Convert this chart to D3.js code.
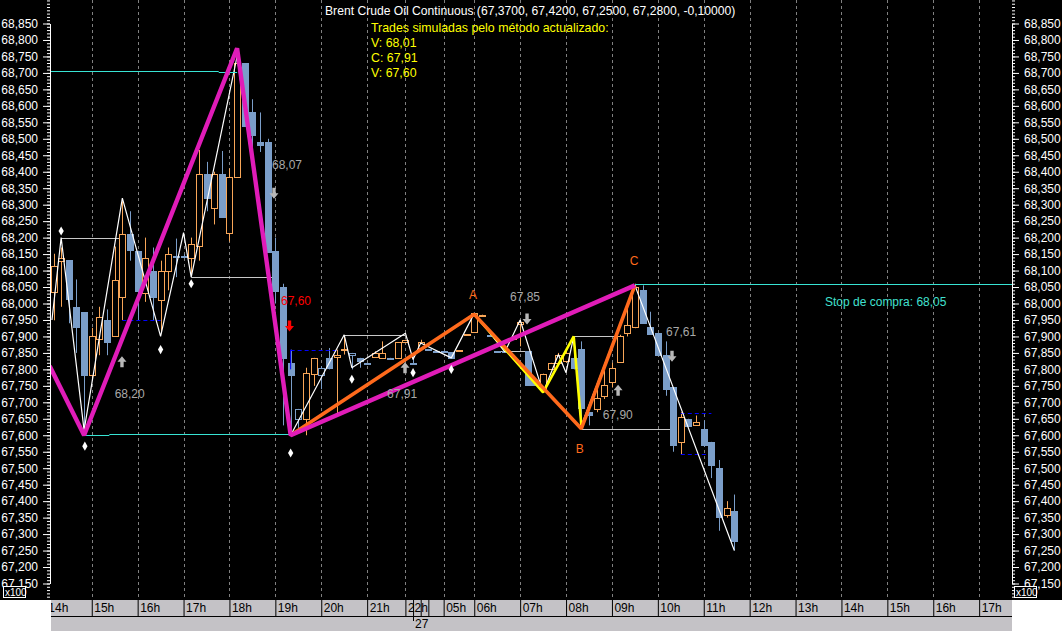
<!DOCTYPE html>
<html>
<head>
<meta charset="utf-8">
<script src="https://d3js.org/d3.v7.min.js"></script>
<style>
  html, body { margin: 0; padding: 0; background: #fff; }
  svg { display: block; }
  text { font-family: "Liberation Sans", Arial, sans-serif; font-size: 12px; }
</style>
</head>
<body>
<div id="chart"></div>
<script>
// candles, one per 10 minute bar
var opens = [68.033,68.131,68.131,67.99,67.973,67.783,67.892,67.949,67.901,68.021,
  68.21,68.16,68.032,68.1,68.012,68.099,68.143,68.143,68.139,68.173,
  68.393,68.29,68.393,68.213,68.383,68.73,68.58,68.49,68.49,68.16,
  68.05,67.82,67.68,67.65,67.785,67.805,67.835,67.84,67.859,67.85,
  67.835,67.82,67.837,67.835,67.835,67.835,67.884,67.82,67.865,67.862,
  67.857,67.857,67.852,67.856,67.905,67.912,67.964,67.905,67.855,67.855,
  67.894,67.94,67.855,67.763,67.742,67.802,67.82,67.825,67.835,67.862,
  67.67,67.68,67.72,67.76,67.82,67.91,67.93,68.04,67.93,67.91,
  67.845,67.745,67.58,67.65,67.63,67.62,67.58,67.5,67.36,67.37];
var closes = [68.113,68.139,68.013,67.93,67.782,67.902,67.96,67.882,68.072,68.212,
  68.162,68.04,68.139,68.022,68.1,68.151,68.141,68.141,68.18,68.393,
  68.32,68.393,68.263,68.383,68.73,68.54,68.51,68.48,68.155,68.04,
  67.835,67.783,67.65,67.79,67.835,67.785,67.805,67.845,67.862,67.844,
  67.825,67.818,67.85,67.85,67.833,67.883,67.89,67.818,67.883,67.86,
  67.855,67.855,67.835,67.858,67.907,67.97,67.966,67.903,67.853,67.853,
  67.896,67.945,67.753,67.753,67.787,67.82,67.844,67.85,67.805,67.683,
  67.662,67.713,67.753,67.803,67.9,67.935,68.05,67.94,67.91,67.843,
  67.743,67.57,67.655,67.63,67.64,67.572,67.51,67.35,67.38,67.28];
var highs = [68.151,68.17,68.131,68.073,67.973,67.926,67.99,67.982,68.173,68.31,
  68.28,68.16,68.2,68.17,68.13,68.17,68.197,68.15,68.2,68.466,
  68.43,68.4,68.463,68.41,68.77,68.73,68.62,68.58,68.5,68.2,
  68.06,67.86,67.68,67.805,67.835,67.81,67.865,67.86,67.9,67.85,
  67.835,67.82,67.855,67.885,67.835,67.883,67.89,67.85,67.89,67.862,
  67.857,67.857,67.852,67.858,67.907,67.97,67.966,67.905,67.855,67.855,
  67.896,67.95,67.855,67.763,67.787,67.82,67.85,67.86,67.85,67.885,
  67.67,67.74,67.795,67.82,67.905,67.99,68.06,68.055,67.975,67.91,
  67.885,67.745,67.67,67.65,67.66,67.645,67.58,67.525,67.4,67.42];
var lows = [67.949,67.99,67.94,67.85,67.6,67.767,67.843,67.843,67.901,67.95,
  68.13,67.95,68.005,67.95,67.91,68.04,68.08,68.14,68.09,68.13,
  68.28,68.24,68.263,68.188,68.383,68.54,68.47,68.46,68.155,68.0,
  67.63,67.6,67.62,67.6,67.75,67.74,67.8,67.66,67.845,67.8,
  67.805,67.818,67.835,67.835,67.833,67.835,67.884,67.818,67.865,67.86,
  67.855,67.855,67.835,67.856,67.905,67.912,67.964,67.903,67.853,67.853,
  67.894,67.87,67.753,67.75,67.742,67.8,67.81,67.82,67.8,67.62,
  67.63,67.67,67.71,67.745,67.82,67.9,67.925,67.94,67.91,67.843,
  67.72,67.55,67.54,67.63,67.63,67.565,67.47,67.31,67.35,67.25];
var hollowDown = [32, 35, 39];

// swing lines: bar index and price
var magentaBars = [-0.5, 4, 24, 31, 76];
var magentaPrices = [67.81, 67.6, 68.775, 67.6, 68.055];
var orangeBars = [31, 55, 69, 76];
var orangePrices = [67.6, 67.967, 67.62, 68.055];
var yellowBars = [55, 64, 68, 69];
var yellowPrices = [67.967, 67.73, 67.9, 67.63];
var zigzagBars = [-0.2, 1, 4, 9, 14, 17, 18, 24, 31, 38, 39, 46, 47, 48, 52, 55, 59, 61, 64, 66, 67, 68, 69, 76, 89];
var zigzagPrices = [67.95, 68.2, 67.615, 68.32, 67.9, 68.215, 68.08, 68.75, 67.6, 67.905, 67.805, 67.91, 67.83, 67.88, 67.835, 67.97, 67.853, 67.95, 67.73, 67.845, 67.79, 67.9, 67.63, 68.055, 67.25];

// horizontal levels: from bar, to bar, price
var grayLevels = [[1,9,68.2],[18,29,68.08],[38,46,67.905],[58,62,67.855],[68,74,67.9],[69,81,67.62]];
var cyanLevels = [[-1,21.6,68.705],[21.6,24,68.702],[4,7.3,67.6],[7.3,31,67.603],[76,126,68.058]];
var blueLevels = [[9,14,67.95],[31,37,67.86],[82,86,67.667],[82,85.5,67.543]];

var diamondBars = [1, 4.1, 14, 18, 31, 39, 47, 52];
var diamondPrices = [68.22, 67.567, 67.86, 68.06, 67.546, 67.77, 67.79, 67.8];

var arrowBars = [8.95, 28.82, 30.85, 45.95, 61.9, 73.8, 80.85];
var arrowPrices = [67.823, 68.335, 67.932, 67.805, 67.953, 67.737, 67.84];
var arrowDirs = [1, -1, -1, 1, -1, 1, -1];
var arrowColors = ["#b8b8b8", "#b8b8b8", "#ff0000", "#b8b8b8", "#b8b8b8", "#b8b8b8", "#b8b8b8"];

var noteTexts = ["68,20", "68,07", "67,60", "67,91", "67,85", "67,90", "67,61", "Stop de compra: 68,05"];
var noteBars = [8, 28.56, 29.74, 43.6, 59.67, 71.8, 80.07, 100.85];
var notePrices = [67.725, 68.42, 68.008, 67.725, 68.02, 67.662, 67.913, 68.005];
var noteColors = ["#a8a8a8", "#a8a8a8", "#ff0000", "#a8a8a8", "#a8a8a8", "#a8a8a8", "#a8a8a8", "#40e0d0"];

var waveTexts = ["A", "B", "C"];
var waveBars = [54.85, 68.8, 75.9];
var wavePrices = [68.026, 67.558, 68.129];

var hourBars = [-1, 5, 11, 17, 23, 29, 35, 41, 46, 51, 55, 61, 67, 73, 79, 85, 91, 97, 103, 109, 115, 121];
var hourLabels = ["14h","15h","16h","17h","18h","19h","20h","21h","22h","05h","06h","07h","08h","09h","10h","11h","12h","13h","14h","15h","16h","17h"];
var extraHourBars = [47, 48, 49];
var dayBar = 47;
var dayLabel = "27";

var titleText = "Brent Crude Oil Continuous (67,3700, 67,4200, 67,2500, 67,2800, -0,10000)";
var tradeTexts = ["Trades simuladas pelo método actualizado:", "V: 68,01", "C: 67,91", "V: 67,60"];

var width = 1062, height = 631;
var left = 50, right = 1012, bottom = 600;

var x = d3.scaleLinear().domain([0, 89]).range([53.5, 734.35]);
var y = d3.scaleLinear().domain([68.85, 67.15]).range([23.5, 583.5]);

var svg = d3.select("#chart").append("svg").attr("width", width).attr("height", height);

svg.append("rect").attr("width", width).attr("height", bottom).attr("fill", "#000");

svg.append("clipPath").attr("id", "plot").append("rect")
  .attr("x", left + 1).attr("y", 0).attr("width", right - left - 1).attr("height", bottom);

var plot = svg.append("g").attr("clip-path", "url(#plot)");

// grid
plot.selectAll(".grid").data(hourBars).enter().append("line")
  .attr("x1", function(d) { return Math.round(x(d)) + 0.5; })
  .attr("x2", function(d) { return Math.round(x(d)) + 0.5; })
  .attr("y1", 0).attr("y2", bottom)
  .attr("stroke", "#808080").attr("stroke-dasharray", "3,3");

function drawLevels(list, color, dash) {
  plot.append("g").selectAll("line").data(list).enter().append("line")
    .attr("x1", function(d) { return x(d[0]); })
    .attr("x2", function(d) { return x(d[1]); })
    .attr("y1", function(d) { return Math.round(y(d[2])) + 0.5; })
    .attr("y2", function(d) { return Math.round(y(d[2])) + 0.5; })
    .attr("stroke", color).attr("stroke-dasharray", dash);
}
drawLevels(grayLevels, "#c8c8c8", null);

// candles
var bars = d3.range(opens.length);
var candle = plot.append("g").selectAll("g").data(bars).enter().append("g");
function barColor(i) { return closes[i] > opens[i] ? "#f8a658" : "#7b9ec9"; }
candle.append("line")
  .attr("x1", function(i) { return Math.round(x(i)) + 0.5; })
  .attr("x2", function(i) { return Math.round(x(i)) + 0.5; })
  .attr("y1", function(i) { return y(highs[i]); })
  .attr("y2", function(i) { return y(lows[i]); })
  .attr("stroke", barColor);
candle.append("rect")
  .attr("x", function(i) { return Math.round(x(i)) - 2.5; })
  .attr("width", 6)
  .attr("y", function(i) { return Math.round(y(Math.max(opens[i], closes[i]))) + 0.5; })
  .attr("height", function(i) { return Math.max(1, Math.round(Math.abs(y(opens[i]) - y(closes[i])))); })
  .attr("fill", function(i) {
    if (closes[i] > opens[i] || hollowDown.indexOf(i) >= 0) return "#000";
    return "#7b9ec9";
  })
  .attr("stroke", barColor);

drawLevels(blueLevels, "#0000ff", "4,3");
plot.append("line")
  .attr("x1", x(31)).attr("x2", x(31))
  .attr("y1", y(67.86)).attr("y2", y(67.8))
  .attr("stroke", "#0000ff");

function drawSwing(barList, priceList, color, w) {
  var line = d3.line()
    .x(function(d) { return x(d); })
    .y(function(d, i) { return y(priceList[i]); });
  plot.append("path").attr("d", line(barList))
    .attr("fill", "none").attr("stroke", color).attr("stroke-width", w)
    .attr("stroke-linejoin", "bevel");
}
drawSwing(zigzagBars, zigzagPrices, "#ffffff", 1.2);
drawLevels(cyanLevels, "#38e4d4", null);
drawSwing(yellowBars, yellowPrices, "#ffff00", 2.6);
drawSwing(orangeBars, orangePrices, "#ff6a1c", 3.6);
drawSwing(magentaBars, magentaPrices, "#e01cb8", 4.4);

// diamonds
plot.append("g").selectAll("path").data(diamondBars).enter().append("path")
  .attr("d", d3.symbol().type(d3.symbolDiamond).size(24))
  .attr("transform", function(d, i) { return "translate(" + x(d) + "," + y(diamondPrices[i]) + ")"; })
  .attr("fill", "#fff");

// arrows
plot.append("g").selectAll("path").data(arrowBars).enter().append("path")
  .attr("d", "M0,-5.5L4.5,0L1.7,0L1.7,5.5L-1.7,5.5L-1.7,0L-4.5,0Z")
  .attr("transform", function(d, i) {
    return "translate(" + x(d) + "," + y(arrowPrices[i]) + ") scale(1," + arrowDirs[i] + ")";
  })
  .attr("fill", function(d, i) { return arrowColors[i]; });

// notes
plot.append("g").selectAll("text").data(noteTexts).enter().append("text")
  .attr("x", function(d, i) { return x(noteBars[i]); })
  .attr("y", function(d, i) { return y(notePrices[i]); })
  .attr("dy", "0.35em")
  .attr("fill", function(d, i) { return noteColors[i]; })
  .text(function(d) { return d; });

plot.append("g").selectAll("text").data(waveTexts).enter().append("text")
  .attr("x", function(d, i) { return x(waveBars[i]); })
  .attr("y", function(d, i) { return y(wavePrices[i]); })
  .attr("dy", "0.35em").attr("text-anchor", "middle")
  .attr("fill", "#ff6a1c")
  .text(function(d) { return d; });

// header
svg.append("text").attr("x", 325).attr("y", 15).attr("fill", "#fff")
  .style("font-size", "12.15px").text(titleText);
svg.append("g").selectAll("text").data(tradeTexts).enter().append("text")
  .attr("x", 371)
  .attr("y", function(d, i) { return 32 + i * 15; })
  .attr("fill", "#ffff00")
  .style("font-size", "12.35px")
  .text(function(d) { return d; });

// price axes
var locale = d3.formatLocale({ decimal: ",", thousands: ".", grouping: [3], currency: ["", ""] });
var priceFormat = locale.format(".3f");
var majorValues = d3.range(6715, 6890, 5).map(function(d) { return d / 100; });
var minorValues = d3.range(6710, 6893, 1).map(function(d) { return d / 100; });

function styleAxis(g) {
  g.selectAll("path,line").attr("stroke", "#fff");
  g.selectAll("text").attr("fill", "#fff").style("font-size", "12px")
    .style("font-family", '"Liberation Sans", Arial, sans-serif');
}
function yAxis(make, xpos) {
  svg.append("g").attr("transform", "translate(" + xpos + ",0)")
    .call(make(y).tickValues(minorValues).tickSize(3).tickFormat("").tickSizeOuter(0))
    .call(styleAxis);
  svg.append("g").attr("transform", "translate(" + xpos + ",0)")
    .call(make(y).tickValues(majorValues).tickSize(7).tickPadding(5).tickFormat(priceFormat).tickSizeOuter(0))
    .call(styleAxis)
    .call(function(g) { g.select(".domain").remove(); });
}
yAxis(d3.axisLeft, left);
yAxis(d3.axisRight, right);

// x100 boxes
[3, 1014].forEach(function(bx) {
  svg.append("rect").attr("x", bx + 0.5).attr("y", 586.5).attr("width", 22).attr("height", 11)
    .attr("fill", "#000").attr("stroke", "#fff");
  svg.append("text").attr("x", bx + 2).attr("y", 596).attr("fill", "#fff")
    .style("font-size", "10px").text("x100");
});

// time axis
svg.append("rect").attr("x", left + 1).attr("y", bottom).attr("width", right - left - 1).attr("height", height - bottom)
  .attr("fill", "#c4c2c6");

var timeAxis = d3.axisBottom(x)
  .tickValues(hourBars.concat(extraHourBars))
  .tickSize(16).tickSizeOuter(0)
  .tickFormat(function(d) { var k = hourBars.indexOf(d); return k >= 0 ? hourLabels[k] : ""; });
var timeG = svg.append("g").attr("transform", "translate(0," + bottom + ")")
  .attr("clip-path", "url(#band2)").call(timeAxis);
svg.append("clipPath").attr("id", "band2").append("rect")
  .attr("x", left + 1).attr("y", 0).attr("width", right - left - 1).attr("height", height - bottom);
timeG.select(".domain").remove();
timeG.selectAll("line").attr("stroke", "#000");
timeG.selectAll("text").attr("fill", "#000").attr("text-anchor", "start")
  .attr("x", 2).attr("y", 3).attr("dy", "0.71em")
  .style("font-size", "12px").style("font-family", '"Liberation Sans", Arial, sans-serif');

svg.append("line").attr("x1", left + 1).attr("x2", right).attr("y1", 616.5).attr("y2", 616.5).attr("stroke", "#000");
svg.append("line").attr("x1", Math.round(x(dayBar)) + 0.5).attr("x2", Math.round(x(dayBar)) + 0.5)
  .attr("y1", 616).attr("y2", 621).attr("stroke", "#000");
svg.append("text").attr("x", x(dayBar) + 2).attr("y", 628).attr("fill", "#000").text(dayLabel);
</script>
</body>
</html>
